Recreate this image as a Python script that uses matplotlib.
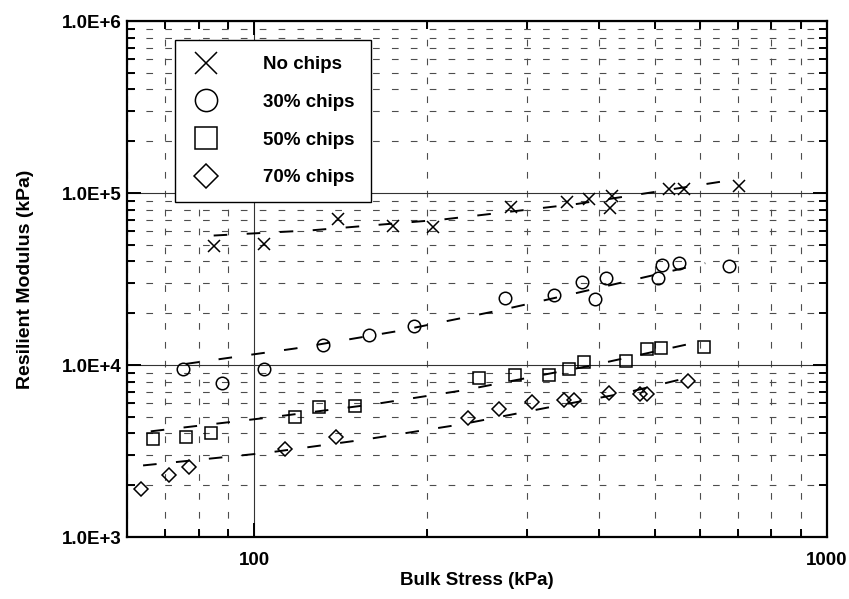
import matplotlib
matplotlib.use('Agg')
import matplotlib.pyplot as plt
from matplotlib.lines import Line2D
from matplotlib.ticker import LogLocator, NullFormatter

plt.rcParams['font.family'] = ['Liberation Sans', 'DejaVu Sans']
plt.rcParams['font.weight'] = 'bold'
plt.rcParams['axes.labelweight'] = 'bold'

# measured points (bulk stress kPa, resilient modulus kPa)
no_chips_x = [85, 104, 140, 175, 205, 281, 351, 384, 421, 418, 530, 562, 702]
no_chips_y = [49000, 50500, 70600, 64000, 63500, 83000, 88700, 92700, 95600, 82000,
              106000, 106000, 110000]

chips30_x = [75, 88, 104, 132, 159, 190, 274, 334, 373, 393, 412, 508, 515, 551, 674]
chips30_y = [9500, 7900, 9500, 13000, 15000, 16900, 24500, 25500, 30500, 24300,
             32000, 32000, 38000, 39000, 37500]

chips50_x = [66.5, 76, 84, 118, 130, 150, 247, 285, 327, 354, 376, 445, 486, 513, 610]
chips50_y = [3700, 3820, 4050, 5000, 5700, 5800, 8400, 8700, 8800, 9500, 10400,
             10600, 12400, 12600, 12700]

chips70_x = [63.4, 71, 77, 113, 139, 236, 268, 305, 348, 362, 416, 471, 486, 571]
chips70_y = [1900, 2300, 2550, 3270, 3800, 4900, 5550, 6100, 6250, 6300, 6850,
             6800, 6800, 8100]

# trend lines
fit_no_x = [85, 126, 213, 367, 682]
fit_no_y = [56600, 60700, 70100, 86500, 119000]
fit_30_x = [76, 118, 178, 271, 360, 613]
fit_30_y = [10150, 12480, 15740, 20940, 25920, 39100]
fit_50_x = [66, 105, 161, 232, 387, 593]
fit_50_y = [4115, 4930, 5900, 7130, 9920, 13560]
fit_70_x = [64, 105, 156, 230, 328, 442, 565]
fit_70_y = [2607, 3085, 3686, 4520, 5686, 6855, 8360]

labels = ['No chips', '30% chips', '50% chips', '70% chips']
ytick_vals = [1e3, 1e4, 1e5, 1e6]
ytick_labels = ['1.0E+3', '1.0E+4', '1.0E+5', '1.0E+6']
xtick_vals = [100, 1000]
xtick_labels = ['100', '1000']

fig = plt.figure(figsize=(8.49, 5.99), dpi=100)
ax = fig.add_axes([0.1496, 0.1035, 0.8245, 0.8614])
ax.set_xscale('log')
ax.set_yscale('log')
ax.set_xlim(60, 1000)
ax.set_ylim(1e3, 1e6)

# grid
ax.xaxis.set_minor_locator(LogLocator(base=10, subs=range(2, 10)))
ax.yaxis.set_minor_locator(LogLocator(base=10, subs=range(2, 10)))
ax.xaxis.set_minor_formatter(NullFormatter())
ax.yaxis.set_minor_formatter(NullFormatter())
ax.grid(which='major', ls='-', lw=0.8, color='0.2', zorder=0)
ax.grid(which='minor', ls=(0, (6, 11)), lw=0.8, color='0.3', zorder=0)
ax.set_axisbelow(True)

fit_style = dict(color='black', lw=1.4, dashes=(7, 10), zorder=2)
ax.plot(fit_no_x, fit_no_y, **fit_style)
ax.plot(fit_30_x, fit_30_y, **fit_style)
ax.plot(fit_50_x, fit_50_y, **fit_style)
ax.plot(fit_70_x, fit_70_y, **fit_style)

mk = dict(ls='none', color='black', mfc='none', mew=1.1, zorder=3)
ax.plot(no_chips_x, no_chips_y, marker='x', ms=9, **mk)
ax.plot(chips30_x, chips30_y, marker='o', ms=9, **mk)
ax.plot(chips50_x, chips50_y, marker='s', ms=9, **mk)
ax.plot(chips70_x, chips70_y, marker='D', ms=7.5, **mk)

ax.set_yticks(ytick_vals)
ax.set_yticklabels(ytick_labels)
ax.set_xticks(xtick_vals)
ax.set_xticklabels(xtick_labels)
ax.tick_params(which='both', direction='in', top=True, right=True, width=1.4,
               labelsize=13.5)
ax.tick_params(which='major', length=10)
ax.tick_params(which='minor', length=6)
ax.tick_params(axis='y', pad=4)
ax.tick_params(axis='x', pad=11)
for sp in ax.spines.values():
    sp.set_linewidth(1.6)

ax.set_xlabel('Bulk Stress (kPa)', fontsize=13.5, fontweight='bold', labelpad=2)
ax.set_ylabel('Resilient Modulus (kPa)', fontsize=14, fontweight='bold', labelpad=20)

handles = [
    Line2D([], [], marker='x', ms=16, **mk),
    Line2D([], [], marker='o', ms=16, **mk),
    Line2D([], [], marker='s', ms=16, **mk),
    Line2D([], [], marker='D', ms=12, **mk),
]
leg = ax.legend(handles, labels, loc='upper left', bbox_to_anchor=(0.0686, 0.9632),
                fontsize=13.5, frameon=True, fancybox=False, framealpha=1,
                edgecolor='black', borderpad=0.85, labelspacing=1.1,
                handlelength=1.65, handletextpad=2.2, borderaxespad=0)
leg.get_frame().set_linewidth(1.0)
leg.set_zorder(5)

fig.savefig('out.png', dpi=100)
